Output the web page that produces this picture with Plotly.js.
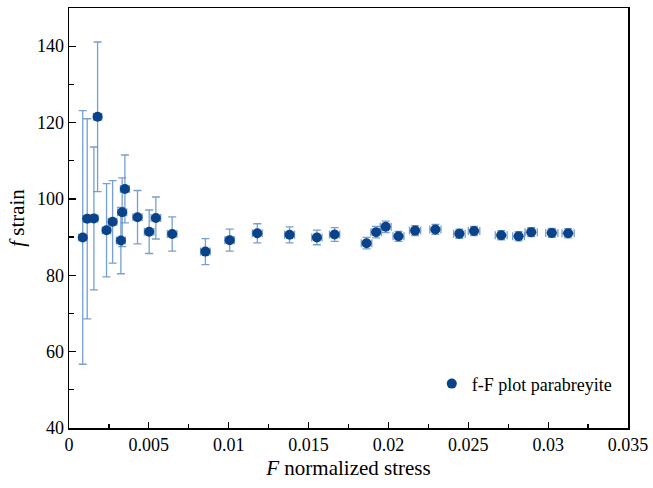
<!DOCTYPE html>
<html>
<head>
<meta charset="utf-8">
<script src="https://cdn.plot.ly/plotly-3.0.1.min.js"></script>
<style>html,body{margin:0;padding:0;background:#fff;}#chart{width:653px;height:488px;}</style>
</head>
<body>
<div id="chart"></div>
<script>
// Normalized stress F
var stressF = [0.00086, 0.00114, 0.00156, 0.00179, 0.00235, 0.00273, 0.00325, 0.00333, 0.00350,
  0.00429, 0.00502, 0.00544, 0.00646, 0.00854, 0.01006, 0.01179, 0.01381, 0.01552, 0.01663,
  0.01863, 0.01923, 0.01983, 0.02063, 0.02167, 0.02294, 0.02444, 0.02536, 0.02706, 0.02815,
  0.02894, 0.03023, 0.03125];
// Strain f
var strainF = [89.9, 94.8, 94.9, 121.5, 91.8, 94.0, 89.1, 96.5, 102.6,
  95.2, 91.4, 95.0, 90.8, 86.2, 89.2, 91.0, 90.6, 89.9, 90.7,
  88.4, 91.3, 92.7, 90.2, 91.7, 92.0, 90.9, 91.6, 90.5, 90.2,
  91.3, 91.1, 91.0];
// Uncertainty in f
var strainErr = [33.2, 26.2, 18.7, 19.6, 12.2, 10.8, 8.7, 9.0, 8.9,
  7.0, 5.7, 5.5, 4.5, 3.4, 2.9, 2.5, 2.1, 1.9, 1.8,
  1.5, 1.5, 1.5, 1.3, 1.3, 1.3, 1.2, 1.2, 1.2, 1.2,
  1.2, 1.2, 1.2];
// Uncertainty in F
var stressErr = [0.00025, 0.00025, 0.00025, 0.00026, 0.00026, 0.00027, 0.00028, 0.00028, 0.00028,
  0.00029, 0.0003, 0.0003, 0.0003, 0.0003, 0.0003, 0.00031, 0.00031, 0.00032, 0.00032,
  0.00033, 0.00033, 0.00034, 0.00034, 0.00035, 0.00035, 0.00036, 0.00036, 0.00037, 0.00037,
  0.00038, 0.00038, 0.00038];
var seriesName = 'f-F plot parabreyite';

var errColor = 'rgba(85,135,198,0.8)';
var trace = {
  x: stressF, y: strainF, type: 'scatter', mode: 'markers', name: seriesName,
  marker: {color: '#0a4389', size: 10},
  error_y: {type: 'data', array: strainErr, visible: true, color: errColor, thickness: 1.3, width: 4},
  error_x: {type: 'data', array: stressErr, visible: true, color: errColor, thickness: 1.3, width: 4}
};
var fontFam = '"Liberation Serif", "Times New Roman", serif';
var layout = {
  width: 653, height: 488,
  margin: {l: 69, r: 25, t: 8, b: 60},
  paper_bgcolor: '#fff', plot_bgcolor: '#fff',
  font: {family: fontFam, color: '#000', size: 18},
  showlegend: true,
  legend: {x: 0.649, y: 0.105, xanchor: 'left', yanchor: 'middle', bgcolor: 'rgba(0,0,0,0)',
    font: {family: fontFam, size: 18, color: '#000'}},
  xaxis: {
    range: [0, 0.035], dtick: 0.005, tick0: 0, showgrid: false, zeroline: false,
    showline: true, linecolor: '#000', linewidth: 1.5, mirror: true,
    ticks: 'inside', ticklen: 6, tickwidth: 1.2, tickcolor: '#000',
    minor: {dtick: 0.0025, ticks: 'inside', ticklen: 4, tickwidth: 1.2, tickcolor: '#000', showgrid: false},
    tickfont: {family: fontFam, size: 18},
    title: {text: '<i>F</i> normalized stress', font: {family: fontFam, size: 21}, standoff: 6}
  },
  yaxis: {
    range: [40, 150], dtick: 20, tick0: 40, showgrid: false, zeroline: false,
    showline: true, linecolor: '#000', linewidth: 1.5, mirror: true,
    ticks: 'inside', ticklen: 7, tickwidth: 1.2, tickcolor: '#000',
    minor: {dtick: 10, ticks: 'inside', ticklen: 5, tickwidth: 1.2, tickcolor: '#000', showgrid: false},
    tickfont: {family: fontFam, size: 18},
    title: {text: '<i>f</i> strain', font: {family: fontFam, size: 21}, standoff: 6}
  }
};
Plotly.newPlot('chart', [trace], layout, {displayModeBar: false, staticPlot: true});
</script>
</body>
</html>
